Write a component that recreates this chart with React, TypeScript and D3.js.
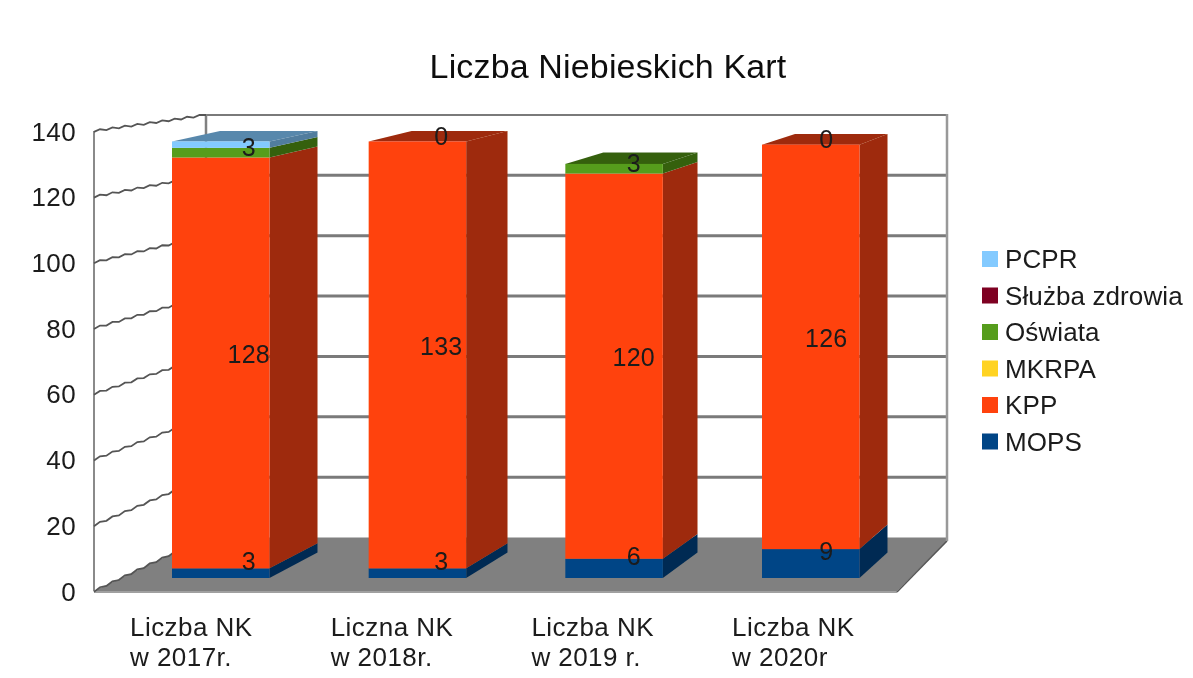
import React from "react";
import * as d3 from "d3";

const title = "Liczba Niebieskich Kart";
const categories = [["Liczba NK", "w 2017r."], ["Liczna NK", "w 2018r."], ["Liczba NK", "w 2019 r."], ["Liczba NK", "w 2020r"]];
const MOPS = [3, 3, 6, 9];
const KPP = [128, 133, 120, 126];
const MKRPA = [0, 0, 0, 0];
const Oswiata = [3, 0, 3, 0];
const Sluzba = [0, 0, 0, 0];
const PCPR = [2, 0, 0, 0];
const tickValues = [0, 20, 40, 60, 80, 100, 120, 140];

const seriesStack = [
  { name: "MOPS", values: MOPS, color: "#004586", labelled: true },
  { name: "KPP", values: KPP, color: "#ff420e", labelled: true },
  { name: "MKRPA", values: MKRPA, color: "#ffd320", labelled: false },
  { name: "Oświata", values: Oswiata, color: "#579d1c", labelled: true },
  { name: "Służba zdrowia", values: Sluzba, color: "#7e0021", labelled: false },
  { name: "PCPR", values: PCPR, color: "#83caff", labelled: false },
];
const legendOrder = [...seriesStack].reverse();

const FONT = "'Liberation Sans', Arial, sans-serif";

// projection of the 3D box
const wallFront = d3.scaleLinear().domain([0, 140]).range([591, 131]);
const wallBack = d3.scaleLinear().domain([0, 140]).range([537.5, 115]);
const barFront = d3.scaleLinear().domain([0, 140]).range([578, 128.6]);
const barBack = d3.scaleLinear().domain([0, 140]).range([552.5, 118.5]);
const barW = 97.5;
const xFront = d3.scaleLinear().domain([0, 3]).range([172, 762]);
const dxLeft = d3.scaleLinear().domain([0, 3]).range([48, 33]);
const dxRight = d3.scaleLinear().domain([0, 3]).range([48, 28]);
const labelShift = d3.scaleLinear().domain([0, 3]).range([28, 15.5]);

const LEFT_X = 94;
const BACK_X = 206;
const RIGHT_X = 947;
const FRONT_RIGHT_X = 897;

// the side-wall grid lines are jagged in the picture: a small saw along the slope
function saw(y0: number, y1: number) {
  const period = 12;
  const n = Math.round((BACK_X - LEFT_X) / period);
  const at = (x: number) => y0 + ((y1 - y0) * (x - LEFT_X)) / (BACK_X - LEFT_X);
  const pts: [number, number][] = [];
  d3.range(n).forEach((k) => {
    const x = LEFT_X + ((BACK_X - LEFT_X) * k) / n;
    pts.push([x, at(x) + 0.9]);
    pts.push([x + 6, at(x + 6) - 0.9]);
  });
  pts.push([BACK_X, y1]);
  return d3.line()(pts) as string;
}
const poly = (p: number[][]) => p.map((q) => q.join(",")).join(" ");

export default function App() {
  const bars = categories.map((_, i) => {
    const x0 = xFront(i);
    const x1 = x0 + barW;
    const dl = dxLeft(i);
    const dr = dxRight(i);
    let acc = 0;
    const segs = seriesStack.map((s) => {
      const a = acc;
      acc += s.values[i];
      return { ...s, a, b: acc, v: s.values[i] };
    });
    const top = [...segs].reverse().find((s) => s.v > 0)!;
    return { i, x0, x1, dl, dr, segs, top, total: acc };
  });

  return (
    <svg width={1193} height={678} style={{ position: "absolute", left: 0, top: 0, background: "#fff" }} fontFamily={FONT}>
      <defs>
        <filter id="soft" x="0" y="0" width="100%" height="100%">
          <feGaussianBlur stdDeviation="0.7" />
        </filter>
      </defs>
      <g filter="url(#soft)">
        <text x={608} y={78} textAnchor="middle" fontSize={34} letterSpacing={0.15} fill="#111">{title}</text>

        {/* floor */}
        <polygon points={poly([[LEFT_X, 591], [FRONT_RIGHT_X, 591], [RIGHT_X, 541], [RIGHT_X, 537.5], [BACK_X, 537.5]])} fill="#808080" />
        <line x1={LEFT_X} x2={FRONT_RIGHT_X} y1={592} y2={592} stroke="#a0a0a0" strokeWidth={2} />
        <line x1={FRONT_RIGHT_X} x2={RIGHT_X} y1={592} y2={541} stroke="#555" strokeWidth={1.5} />

        {/* back wall */}
        {tickValues.filter((t) => t > 0).map((t) => (
          <line key={t} x1={BACK_X} x2={RIGHT_X} y1={wallBack(t)} y2={wallBack(t)} stroke="#7a7a7a" strokeWidth={t === 140 ? 2 : 3} />
        ))}
        <line x1={RIGHT_X} x2={RIGHT_X} y1={114} y2={541} stroke="#999" strokeWidth={2.5} />
        <line x1={BACK_X} x2={BACK_X} y1={114} y2={538} stroke="#808080" strokeWidth={2.5} />

        {/* side wall */}
        <line x1={LEFT_X} x2={LEFT_X} y1={wallFront(140)} y2={591} stroke="#8a8a8a" strokeWidth={2} />
        {tickValues.map((t) => (
          <path key={t} d={saw(wallFront(t), wallBack(t))} fill="none" stroke="#555" strokeWidth={1.8} />
        ))}

        {/* bars */}
        {bars.map((b) => (
          <g key={b.i}>
            <polygon
              points={poly([[b.x0, barFront(b.total)], [b.x1, barFront(b.total)], [b.x1 + b.dr, barBack(b.total)], [b.x0 + b.dl, barBack(b.total)]])}
              fill={d3.color(b.top.color)!.darker(b.top.name === "PCPR" ? 1.1 : 1.35).formatHex()}
            />
            {b.segs.filter((s) => s.v > 0).map((s) => (
              <g key={s.name}>
                <polygon
                  points={poly([[b.x1, barFront(s.a)], [b.x1 + b.dr, barBack(s.a)], [b.x1 + b.dr, barBack(s.b)], [b.x1, barFront(s.b)]])}
                  fill={d3.color(s.color)!.darker(1.35).formatHex()}
                />
                <rect x={b.x0} width={barW} y={barFront(s.b)} height={barFront(s.a) - barFront(s.b)} fill={s.color} />
              </g>
            ))}
          </g>
        ))}

        {/* value labels */}
        {bars.map((b) =>
          b.segs.filter((s) => s.labelled).map((s) => (
            <text
              key={s.name}
              x={(b.x0 + b.x1) / 2 + labelShift(b.i)}
              y={(barFront((s.a + s.b) / 2) + barBack((s.a + s.b) / 2)) / 2 + 9}
              textAnchor="middle"
              fontSize={25}
              letterSpacing={0.3}
              fill="#1a1a1a"
            >
              {s.v}
            </text>
          ))
        )}

        {/* y ticks */}
        {tickValues.map((t) => (
          <text key={t} x={76} y={wallFront(t) + 9.5} textAnchor="end" fontSize={26} letterSpacing={0.4} fill="#1a1a1a">{t}</text>
        ))}

        {/* x labels */}
        {categories.map((c, i) => (
          <text key={i} y={636} fontSize={26} letterSpacing={0.45} fill="#1a1a1a">
            <tspan x={130 + i * 200.7}>{c[0]}</tspan>
            <tspan x={130 + i * 200.7} dy={30}>{c[1]}</tspan>
          </text>
        ))}

        {/* legend */}
        {legendOrder.map((s, i) => {
          const cy = 259 + i * 36.5;
          return (
            <g key={s.name}>
              <rect x={982} y={cy - 8} width={16} height={16} fill={s.color} />
              <text x={1005} y={cy + 9} fontSize={26} letterSpacing={0.1} fill="#1a1a1a">{s.name}</text>
            </g>
          );
        })}
      </g>
    </svg>
  );
}
